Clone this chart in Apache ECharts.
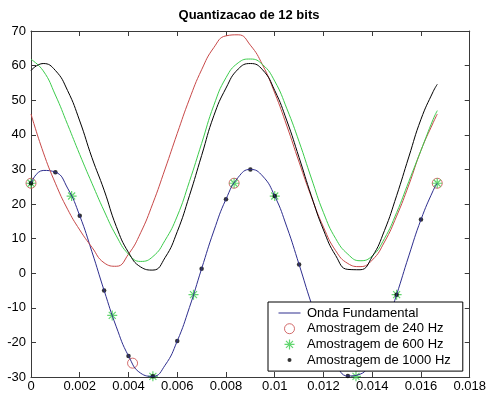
<!DOCTYPE html>
<html><head><meta charset="utf-8">
<script src="https://cdn.jsdelivr.net/npm/echarts@6/dist/echarts.min.js"></script>
<style>html,body{margin:0;padding:0;background:#fff}#c{width:489px;height:396px}</style>
</head><body><div id="c"></div>
<script>
// time grid (s)
const tGrid = [0, 0.0005, 0.001, 0.0015, 0.002, 0.0025, 0.003, 0.0035, 0.004, 0.0045,
  0.005, 0.0055, 0.006, 0.0065, 0.007, 0.0075, 0.008, 0.0085, 0.009, 0.0095,
  0.01, 0.0105, 0.011, 0.0115, 0.012, 0.0125, 0.013, 0.0135, 0.014, 0.0145,
  0.015, 0.0155, 0.016, 0.0165, 0.01667];
// fundamental wave (blue)
const fundamental = [26.0, 29.7, 29.2, 24.6, 16.6, 6.2, -5.0, -15.5, -23.9, -28.9,
  -29.8, -26.6, -19.6, -9.9, 1.3, 12.2, 21.4, 27.7, 30.0, 28.1,
  22.3, 13.3, 2.5, -8.7, -18.6, -26.0, -29.7, -29.2, -24.6, -16.6,
  -6.2, 5.0, 15.5, 23.9, 26.0];
// reconstructed curves
const recon240 = [46, 35, 26, 18.5, 12.5, 7.5, 3, 2, 5.5, 11.7,
  20.2, 30.1, 40.4, 50.3, 58.8, 65.2, 68.6, 68.9, 65.9, 60.2,
  52.1, 42.5, 32.1, 22.1, 13.3, 6.5, 2.8, 1.9, 3.8, 9,
  16.5, 25.5, 35.5, 43.5, 46];
const recon600 = [61.8, 58.5, 51.5, 43, 34.3, 26, 18, 10.8, 5.5, 3.4,
  4.8, 9.5, 16.5, 26.5, 37.5, 48.5, 56.5, 60.8, 61.9, 60.3,
  55.5, 47.5, 38, 27.5, 17.5, 10, 5.5, 3.6, 5, 10,
  17.5, 26.5, 35.5, 44.5, 47];
const recon1000 = [58.6, 60.6, 58.6, 52.8, 44.0, 33.4, 24, 13.5, 6, 1.8,
  0.9, 4.5, 12, 22.4, 34, 45.5, 53.5, 59, 60.6, 58.8,
  52.8, 44.0, 33.4, 22.4, 12.5, 5.1, 1.1, 1.0, 4.8, 12.3,
  22.4, 33.6, 44.5, 52.5, 54.6];
// samples
const t240 = [0, 0.004167, 0.008333, 0.0125, 0.016667];
const v240 = [26, -26, 26, -26, 26];
const t600 = [0, 0.001667, 0.003333, 0.005, 0.006667, 0.008333, 0.01, 0.011667, 0.013333, 0.015, 0.016667];
const v600 = [26, 22.3, -12.2, -29.8, -6.2, 26, 22.3, -12.2, -29.8, -6.2, 26];
const t1000 = [0, 0.001, 0.002, 0.003, 0.004, 0.005, 0.006, 0.007, 0.008, 0.009, 0.01, 0.011, 0.012, 0.013, 0.014, 0.015, 0.016];
const v1000 = [26, 29.2, 16.6, -5.0, -23.9, -29.8, -19.6, 1.3, 21.4, 30.0, 22.3, 2.5, -18.6, -29.7, -24.6, -6.2, 15.5];
// ticks
const xTickLabels = ['0', '0.002', '0.004', '0.006', '0.008', '0.01', '0.012', '0.014', '0.016', '0.018'];
const yTickLabels = ['-30', '-20', '-10', '0', '10', '20', '30', '40', '50', '60', '70'];
const seriesNames = ['Onda Fundamental', 'Amostragem de 240 Hz', 'Amostragem de 600 Hz', 'Amostragem de 1000 Hz'];

const pairs = (ts, vs) => ts.map((t, i) => [t, vs[i]]);
const FONT = 'Liberation Sans, Arial, sans-serif';
const BLUE = '#2e2e8e', RED = '#c84848', GREEN = '#3ccc4c', AXIS = '#3a3a3a';
const STAR = 'path://M-0.6,-5L0.6,-5L0.6,5L-0.6,5Z M-5,-0.6L5,-0.6L5,0.6L-5,0.6Z M-3.08,-3.92L3.92,3.08L3.08,3.92L-3.92,-3.08Z M3.08,-3.92L3.92,-3.08L-3.08,3.92L-3.92,3.08Z';
const DOT_ICON = 'path://M-5,-5L-5,-5M5,5L5,5M-2,0A2,2 0 1,0 2,0A2,2 0 1,0 -2,0Z';

const chart = echarts.init(document.getElementById('c'), null, {renderer: 'canvas'});
const axisCommon = {
  type: 'value',
  axisLine: {show: true, onZero: false, lineStyle: {color: AXIS, width: 1}},
  axisTick: {show: true, inside: true, length: 5, lineStyle: {color: AXIS}},
  splitLine: {show: false}
};
chart.setOption({
  animation: false,
  backgroundColor: '#fff',
  title: {
    text: 'Quantizacao de 12 bits', left: 249, top: 9, padding: 0,
    textAlign: 'center',
    textStyle: {fontFamily: FONT, fontSize: 13, fontWeight: 'bold', color: '#000'}
  },
  grid: {left: 31, right: 18, top: 31, bottom: 19, containLabel: false},
  xAxis: [
    Object.assign({}, axisCommon, {
      position: 'bottom', min: 0, max: 0.018, interval: 0.002,
      axisLabel: {margin: 3, fontFamily: FONT, fontSize: 13, color: '#000',
        formatter: v => xTickLabels[Math.round(v / 0.002)]}
    }),
    Object.assign({}, axisCommon, {
      position: 'top', min: 0, max: 0.018, interval: 0.002, axisLabel: {show: false}
    })
  ],
  yAxis: [
    Object.assign({}, axisCommon, {
      position: 'left', min: -30, max: 70, interval: 10,
      axisLabel: {margin: 5, fontFamily: FONT, fontSize: 13, color: '#000',
        formatter: v => yTickLabels[Math.round((v + 30) / 10)]}
    }),
    Object.assign({}, axisCommon, {
      position: 'right', min: -30, max: 70, interval: 10, axisLabel: {show: false}
    })
  ],
  legend: {
    orient: 'vertical', left: 268, top: 302,
    backgroundColor: '#fff', borderColor: '#000', borderWidth: 1, borderRadius: 0,
    padding: [4.5, 12, 4.5, 9], itemGap: 2.7, itemWidth: 25, itemHeight: 10,
    selectedMode: false,
    textStyle: {fontFamily: FONT, fontSize: 13, color: '#000'},
    data: [
      {name: seriesNames[0], icon: 'path://M0,0L0,0M25,10L25,10M1.5,4.5L23.5,4.5L23.5,5.5L1.5,5.5Z', itemStyle: {color: BLUE, borderWidth: 0}},
      {name: seriesNames[1], icon: 'circle', itemStyle: {color: 'rgba(0,0,0,0)', borderColor: RED, borderWidth: 1}},
      {name: seriesNames[2], icon: STAR, itemStyle: {color: GREEN, borderWidth: 0}},
      {name: seriesNames[3], icon: DOT_ICON, itemStyle: {color: '#000', borderWidth: 0}}
    ]
  },
  series: [
    {name: seriesNames[0], type: 'line', data: pairs(tGrid, fundamental), smooth: true,
      showSymbol: false, symbol: 'none', lineStyle: {color: BLUE, width: 1}, itemStyle: {color: BLUE}},
    {name: 'rec240', type: 'line', data: pairs(tGrid, recon240), smooth: true,
      showSymbol: false, symbol: 'none', lineStyle: {color: RED, width: 1}},
    {name: 'rec600', type: 'line', data: pairs(tGrid, recon600), smooth: true,
      showSymbol: false, symbol: 'none', lineStyle: {color: GREEN, width: 1}},
    {name: 'rec1000', type: 'line', data: pairs(tGrid, recon1000), smooth: true,
      showSymbol: false, symbol: 'none', lineStyle: {color: '#000', width: 1}},
    {name: seriesNames[1], type: 'scatter', data: pairs(t240, v240), symbol: 'circle', symbolSize: 10,
      itemStyle: {color: 'rgba(0,0,0,0)', borderColor: RED, borderWidth: 1}},
    {name: seriesNames[2], type: 'scatter', data: pairs(t600, v600), symbol: STAR, symbolSize: 10,
      itemStyle: {color: GREEN}},
    {name: seriesNames[3], type: 'scatter', data: pairs(t1000, v1000), symbol: 'circle', symbolSize: 4.5,
      itemStyle: {color: '#000'}}
  ]
});
</script>
</body></html>
